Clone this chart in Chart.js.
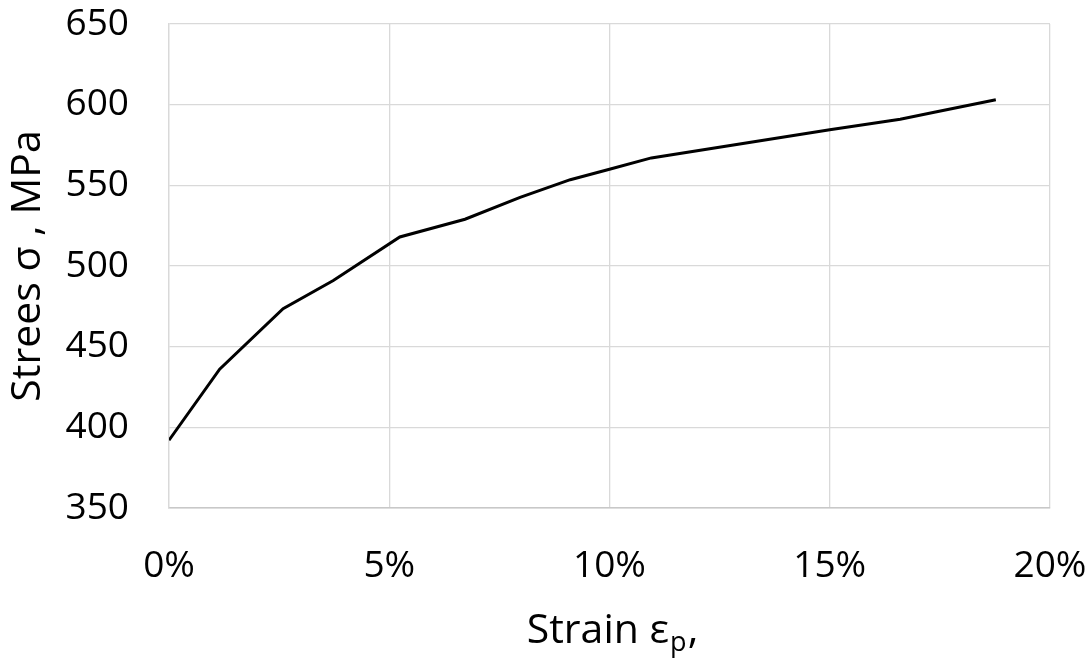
<!DOCTYPE html>
<html>
<head>
<meta charset="utf-8">
<script src="https://cdn.jsdelivr.net/npm/chart.js@4/dist/chart.umd.min.js"></script>
<style>
  html, body { margin: 0; padding: 0; background: #fff; }
  #wrap { width: 1092px; height: 658px; position: relative; }
</style>
</head>
<body>
<div id="wrap"><canvas id="stressChart"></canvas></div>
<script>
// plastic strain (%) and stress (MPa)
const strainPct = [0, 1.15, 2.59, 3.73, 5.24, 6.72, 7.97, 9.11, 10.0, 10.95, 15.0, 16.6, 17.4, 18.77];
const stressMPa = [392, 436, 473.5, 491, 518, 529, 542.5, 553.5, 560, 567, 584.5, 591, 595.5, 603];

const xTicks = [0, 5, 10, 15, 20];
const yTicks = [350, 400, 450, 500, 550, 600, 650];

const yTitle = 'Strees σ , MPa';
// x title is drawn in three parts so the "p" can sit as a subscript
const xTitleMain = 'Strain ε';
const xTitleSub = 'p';
const xTitleEnd = ',';

const FONT = '"Open Sans", "Noto Sans", sans-serif';
const GRID = '#d9d9d9';

const points = strainPct.map((x, i) => ({ x: x, y: stressMPa[i] }));

// draws the x axis title with a subscript below the plot
const xTitlePlugin = {
    id: 'xTitleSub',
    afterDraw(chart) {
        const ctx = chart.ctx;
        const area = chart.chartArea;
        const big = '41px ' + FONT;
        const small = '27px ' + FONT;
        ctx.save();
        ctx.fillStyle = '#000';
        ctx.textBaseline = 'alphabetic';
        ctx.textAlign = 'left';
        ctx.font = big;
        const w1 = ctx.measureText(xTitleMain).width;
        const w3 = ctx.measureText(xTitleEnd).width;
        ctx.font = small;
        const w2 = ctx.measureText(xTitleSub).width;
        const total = w1 + w2 + w3 + 2;
        let x = (area.left + area.right) / 2 + 3 - total / 2;
        const base = area.bottom + 135;
        ctx.font = big;
        ctx.fillText(xTitleMain, x, base);
        x += w1 + 1;
        ctx.font = small;
        ctx.fillText(xTitleSub, x, base + 8);
        x += w2 + 1;
        ctx.font = big;
        ctx.fillText(xTitleEnd, x, base);
        ctx.restore();
    }
};

new Chart(document.getElementById('stressChart'), {
    type: 'line',
    data: {
        datasets: [{
            data: points,
            borderColor: '#000',
            borderWidth: 3,
            pointRadius: 0,
            tension: 0,
            fill: false
        }]
    },
    options: {
        responsive: true,
        maintainAspectRatio: false,
        animation: false,
        layout: { padding: { top: 24, right: 42, left: 0, bottom: 0 } },
        plugins: {
            legend: { display: false },
            tooltip: { enabled: false }
        },
        scales: {
            x: {
                type: 'linear',
                min: xTicks[0],
                max: xTicks[xTicks.length - 1],
                afterBuildTicks: (s) => { s.ticks = xTicks.map(v => ({ value: v })); },
                grid: { color: GRID, lineWidth: 1.3, drawTicks: false },
                border: { color: '#c8c8c8', width: 1.5 },
                ticks: {
                    color: '#000',
                    font: { family: FONT, size: 37 },
                    padding: 36,
                    maxRotation: 0,
                    callback: (v) => v + '%'
                },
                afterFit: (s) => { s.height = 150; s.paddingLeft = 0; s.paddingRight = 0; }
            },
            y: {
                type: 'linear',
                min: yTicks[0],
                max: yTicks[yTicks.length - 1],
                afterBuildTicks: (s) => { s.ticks = yTicks.map(v => ({ value: v })); },
                grid: { color: GRID, lineWidth: 1.3, drawTicks: false },
                border: { color: GRID, width: 1.3 },
                ticks: {
                    color: '#000',
                    font: { family: FONT, size: 37 },
                    padding: 40
                },
                title: {
                    display: true,
                    text: yTitle,
                    color: '#000',
                    font: { family: FONT, size: 41 },
                    padding: { top: 4, bottom: 0 }
                },
                afterFit: (s) => { s.width = 169; s.paddingTop = 0; s.paddingBottom = 0; }
            }
        }
    },
    plugins: [xTitlePlugin]
});
</script>
</body>
</html>
